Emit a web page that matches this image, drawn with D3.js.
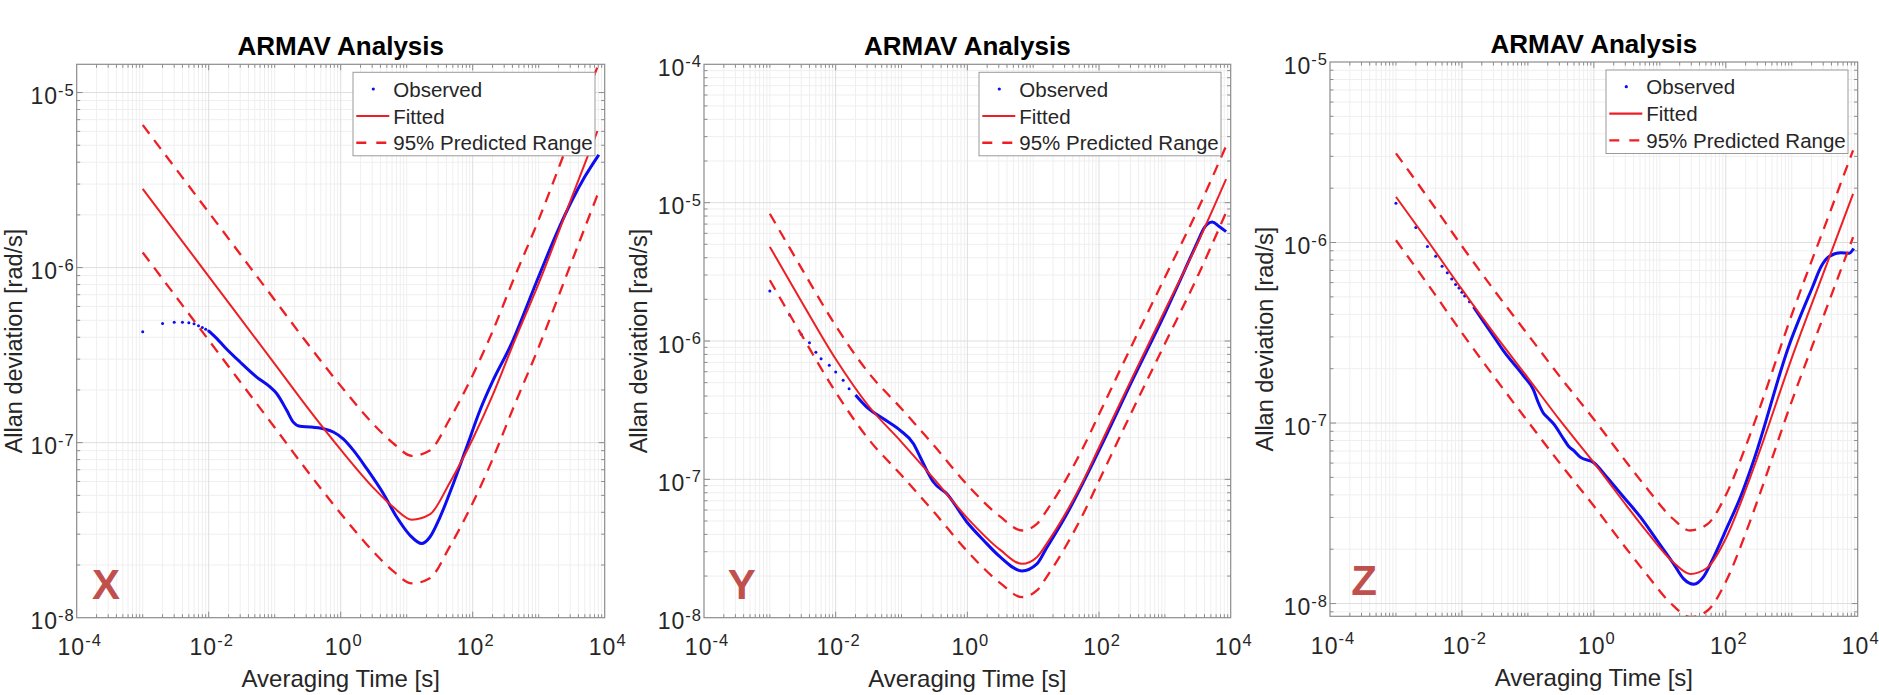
<!DOCTYPE html>
<html><head><meta charset="utf-8">
<script src="https://cdn.jsdelivr.net/npm/d3@7"></script>
<style>
html,body{margin:0;padding:0;background:#fff;}
svg{display:block;}
text{font-family:"Liberation Sans",Arial,Helvetica,sans-serif;}
</style></head><body>
<svg id="chart" width="1879" height="695"></svg>
<script>
// ---------------- DATA ----------------
const titleText = "ARMAV Analysis";
const xLabelText = "Averaging Time [s]";
const yLabelText = "Allan deviation [rad/s]";
const legendLabels = ["Observed", "Fitted", "95% Predicted Range"];
const panelLetters = ["X", "Y", "Z"];

const xTickValues = [1e-4, 1e-2, 1e0, 1e2, 1e4];
const xTickExps = ["-4", "-2", "0", "2", "4"];

const yTicksX = [1e-8, 1e-7, 1e-6, 1e-5];
const yExpsX = ["-8", "-7", "-6", "-5"];
const yTicksY = [1e-8, 1e-7, 1e-6, 1e-5, 1e-4];
const yExpsY = ["-8", "-7", "-6", "-5", "-4"];
const yTicksZ = [1e-8, 1e-7, 1e-6, 1e-5];
const yExpsZ = ["-8", "-7", "-6", "-5"];

// Panel X
const tauFitX = [0.001,0.01,0.1,0.316,1,3.16,6.31,12.0,22.4,44.7,100,200,398,1000,3162,7762];
const fitX    = [2.82e-6,8.91e-7,2.82e-7,1.58e-7,9.12e-8,5.50e-8,4.27e-8,3.63e-8,3.89e-8,5.89e-8,1.05e-7,1.86e-7,3.55e-7,8.13e-7,2.51e-6,6.03e-6];
const upperX  = [6.53e-6,2.07e-6,6.53e-7,3.67e-7,2.11e-7,1.27e-7,9.89e-8,8.41e-8,9.02e-8,1.36e-7,2.43e-7,4.32e-7,8.22e-7,1.88e-6,5.82e-6,1.40e-5];
const lowerX  = [1.22e-6,3.85e-7,1.22e-7,6.84e-8,3.94e-8,2.37e-8,1.84e-8,1.57e-8,1.68e-8,2.54e-8,4.52e-8,8.04e-8,1.53e-7,3.51e-7,1.08e-6,2.60e-6];
const dotTauX = [0.001,0.002,0.003,0.004,0.005,0.006,0.007,0.008,0.009,0.010];
const dotValX = [4.3e-7,4.8e-7,4.87e-7,4.87e-7,4.84e-7,4.78e-7,4.65e-7,4.55e-7,4.45e-7,4.35e-7];
const obsTauX = [0.010,0.0132,0.0174,0.0298,0.0533,0.0849,0.107,0.152,0.191,0.242,0.343,0.545,0.773,1.09,1.55,2.48,4.42,7.05,11.2,16.9,22.5,32.0,50.8,81.1,129,205,367,1000,1995,3162,5012,8128];
const obsValX = [4.35e-7,3.94e-7,3.52e-7,2.89e-7,2.37e-7,2.08e-7,1.91e-7,1.53e-7,1.31e-7,1.24e-7,1.23e-7,1.20e-7,1.15e-7,1.05e-7,9.06e-8,7.10e-8,5.12e-8,3.76e-8,2.96e-8,2.65e-8,2.89e-8,3.76e-8,5.83e-8,9.44e-8,1.53e-7,2.28e-7,3.52e-7,8.9e-7,1.66e-6,2.4e-6,3.31e-6,4.41e-6];

// Panel Y
const tauFitY = [0.001,0.00316,0.01,0.0316,0.1,0.316,1,3.16,6.76,11.5,15.8,31.6,58.9,100,316,1000,3162,8511];
const fitY    = [4.79e-6,1.86e-6,7.41e-7,3.39e-7,1.86e-7,1.0e-7,5.25e-8,3.09e-8,2.45e-8,2.75e-8,3.39e-8,5.75e-8,1.0e-7,1.70e-7,5.37e-7,1.66e-6,5.13e-6,1.48e-5];
const upperY  = [8.32e-6,3.24e-6,1.29e-6,5.89e-7,3.24e-7,1.74e-7,9.12e-8,5.37e-8,4.27e-8,4.79e-8,5.89e-8,1.0e-7,1.74e-7,2.95e-7,9.33e-7,2.88e-6,8.91e-6,2.57e-5];
const lowerY  = [2.75e-6,1.07e-6,4.27e-7,1.95e-7,1.07e-7,5.75e-8,3.02e-8,1.78e-8,1.41e-8,1.58e-8,1.95e-8,3.31e-8,5.75e-8,9.77e-8,3.09e-7,9.55e-7,2.95e-6,8.51e-6];
const dotTauY = [0.001,0.002,0.003,0.004,0.005,0.006,0.008,0.010,0.013,0.016];
const dotValY = [2.3e-6,1.54e-6,1.12e-6,9.7e-7,8.3e-7,7.45e-7,6.67e-7,5.97e-7,5.2e-7,4.52e-7];
const obsTauY = [0.02,0.0296,0.0531,0.0953,0.152,0.192,0.242,0.305,0.488,0.982,1.76,3.15,6.73,11.4,15.8,31.6,100,316,1000,1995,3162,3981,5248,6607,8511];
const obsValY = [4.07e-7,3.33e-7,2.74e-7,2.26e-7,1.81e-7,1.45e-7,1.16e-7,9.57e-8,7.87e-8,4.92e-8,3.63e-8,2.75e-8,2.18e-8,2.45e-8,3.16e-8,5.5e-8,1.62e-7,5.13e-7,1.58e-6,3.24e-6,5.25e-6,6.61e-6,7.24e-6,6.76e-6,6.17e-6];

// Panel Z
const tauFitZ = [0.001,0.00316,0.01,0.0316,0.1,0.316,1,3.16,6.31,15.8,28.8,52.5,100,200,316,1000,3162,8511];
const fitZ    = [1.79e-6,1.0e-6,5.5e-7,3.09e-7,1.78e-7,1.02e-7,6.03e-8,3.47e-8,2.51e-8,1.70e-8,1.46e-8,1.58e-8,2.29e-8,4.27e-8,6.76e-8,2.29e-7,7.08e-7,1.86e-6];
const upperZ  = [3.12e-6,1.74e-6,9.55e-7,5.37e-7,3.09e-7,1.78e-7,1.05e-7,6.03e-8,4.37e-8,2.95e-8,2.54e-8,2.75e-8,3.98e-8,7.41e-8,1.17e-7,3.98e-7,1.23e-6,3.24e-6];
const lowerZ  = [1.03e-6,5.75e-7,3.16e-7,1.78e-7,1.02e-7,5.89e-8,3.47e-8,2.0e-8,1.45e-8,9.77e-9,8.41e-9,9.12e-9,1.32e-8,2.45e-8,3.89e-8,1.32e-7,4.07e-7,1.07e-6];
const dotTauZ = [0.001,0.002,0.003,0.004,0.005,0.006,0.007,0.008,0.009,0.010,0.011,0.013];
const dotValZ = [1.65e-6,1.21e-6,9.5e-7,8.4e-7,7.4e-7,6.8e-7,6.27e-7,5.86e-7,5.6e-7,5.3e-7,5.05e-7,4.7e-7];
const obsTauZ = [0.015,0.0316,0.0427,0.0865,0.122,0.141,0.173,0.2,0.245,0.347,0.417,0.492,0.622,1.0,1.58,2.82,5.06,9.06,16.2,23.0,32.7,46.2,65.6,105,167,265,897,2075,2818,3639,5559,7345,8710];
const obsValZ = [4.4e-7,2.95e-7,2.51e-7,1.82e-7,1.52e-7,1.32e-7,1.13e-7,1.07e-7,9.91e-8,8.18e-8,7.41e-8,7.05e-8,6.47e-8,6.03e-8,5.01e-8,3.89e-8,3.02e-8,2.24e-8,1.66e-8,1.37e-8,1.28e-8,1.41e-8,1.81e-8,2.65e-8,3.89e-8,6.21e-8,2.65e-7,5.69e-7,7.41e-7,8.34e-7,8.77e-7,8.71e-7,9.27e-7];

// ---------------- LAYOUT ----------------
const panels = [
  {letter: panelLetters[0], left: 76.7, right: 604.7, top: 64.3, bottom: 617.7, yDomain: [1e-8, 1.45e-5],
   yTicks: yTicksX, yExps: yExpsX, tauFit: tauFitX, fit: fitX, upper: upperX, lower: lowerX,
   dotTau: dotTauX, dotVal: dotValX, obsTau: obsTauX, obsVal: obsValX, letterDx: 29.3, letterDy: 18.7, ylabOff: 55},
  {letter: panelLetters[1], left: 704, right: 1230.7, top: 64.3, bottom: 617.7, yDomain: [1e-8, 1e-4],
   yTicks: yTicksY, yExps: yExpsY, tauFit: tauFitY, fit: fitY, upper: upperY, lower: lowerY,
   dotTau: dotTauY, dotVal: dotValY, obsTau: obsTauY, obsVal: obsValY, letterDx: 37.7, letterDy: 19, ylabOff: 57.3},
  {letter: panelLetters[2], left: 1330, right: 1857.7, top: 62, bottom: 616.3, yDomain: [8.5e-9, 1e-5],
   yTicks: yTicksZ, yExps: yExpsZ, tauFit: tauFitZ, fit: fitZ, upper: upperZ, lower: lowerZ,
   dotTau: dotTauZ, dotVal: dotValZ, obsTau: obsTauZ, obsVal: obsValZ, letterDx: 34, letterDy: 21, ylabOff: 56.7}
];

const RED = "#ee1f24", BLUE = "#0d0def", AXIS = "#8c8c8c", TXT = "#262626";
const svg = d3.select("#chart");

panels.forEach((p, pi) => {
  const x = d3.scaleLog().domain([1e-4, 1e4]).range([p.left, p.right]);
  const y = d3.scaleLog().domain(p.yDomain).range([p.bottom, p.top]);
  const g = svg.append("g");
  const clipId = "clip" + pi;
  g.append("clipPath").attr("id", clipId).append("rect")
    .attr("x", p.left).attr("y", p.top).attr("width", p.right - p.left).attr("height", p.bottom - p.top);

  const xMinor = [];
  for (let e = -4; e < 4; e++) for (let k = 1; k <= 9; k++) {
    const v = k * Math.pow(10, e);
    if (k === 1 && e % 2 === 0) continue;
    xMinor.push(v);
  }
  const yMinor = [];
  const e0 = Math.floor(Math.log10(p.yDomain[0])), e1 = Math.ceil(Math.log10(p.yDomain[1]));
  for (let e = e0; e < e1; e++) for (let k = 2; k <= 9; k++) {
    const v = k * Math.pow(10, e);
    if (v > p.yDomain[0] && v < p.yDomain[1]) yMinor.push(v);
  }
  const xMajor = xTickValues.slice(1, -1);
  const yMaj = p.yTicks.filter(v => v > p.yDomain[0] * 1.001 && v < p.yDomain[1] * 0.999);

  const grid = g.append("g");
  grid.selectAll(".xm").data(xMinor).join("line")
    .attr("x1", d => x(d)).attr("x2", d => x(d)).attr("y1", p.top).attr("y2", p.bottom)
    .attr("stroke", "#efefef").attr("stroke-width", 1);
  grid.selectAll(".ym").data(yMinor).join("line")
    .attr("x1", p.left).attr("x2", p.right).attr("y1", d => y(d)).attr("y2", d => y(d))
    .attr("stroke", "#efefef").attr("stroke-width", 1);
  grid.selectAll(".xM").data(xMajor).join("line")
    .attr("x1", d => x(d)).attr("x2", d => x(d)).attr("y1", p.top).attr("y2", p.bottom)
    .attr("stroke", "#dedede").attr("stroke-width", 1);
  grid.selectAll(".yM").data(yMaj).join("line")
    .attr("x1", p.left).attr("x2", p.right).attr("y1", d => y(d)).attr("y2", d => y(d))
    .attr("stroke", "#dedede").attr("stroke-width", 1);

  // curves
  const curves = g.append("g").attr("clip-path", `url(#${clipId})`);
  const line = d3.line().x(d => x(d[0])).y(d => y(d[1])).curve(d3.curveMonotoneX);
  const obsPts = p.obsTau.map((t, i) => [t, p.obsVal[i]]);
  curves.append("path").attr("d", line(obsPts)).attr("fill", "none")
    .attr("stroke", BLUE).attr("stroke-width", 3).attr("stroke-linejoin", "round");
  curves.selectAll(".dot").data(p.dotTau.map((t, i) => [t, p.dotVal[i]])).join("circle")
    .attr("cx", d => x(d[0])).attr("cy", d => y(d[1])).attr("r", 1.5).attr("fill", BLUE);
  const fitPts = p.tauFit.map((t, i) => [t, p.fit[i]]);
  curves.append("path").attr("d", line(fitPts)).attr("fill", "none")
    .attr("stroke", RED).attr("stroke-width", 2);
  [p.upper, p.lower].forEach(arr => {
    curves.append("path").attr("d", line(p.tauFit.map((t, i) => [t, arr[i]]))).attr("fill", "none")
      .attr("stroke", RED).attr("stroke-width", 2.3).attr("stroke-dasharray", "11,8");
  });

  // ticks
  const ticks = g.append("g").attr("stroke", AXIS).attr("stroke-width", 1);
  [[xMinor, 3.5], [xMajor, 6]].forEach(([vals, len]) => {
    vals.forEach(v => {
      const xx = x(v);
      ticks.append("line").attr("x1", xx).attr("x2", xx).attr("y1", p.bottom).attr("y2", p.bottom - len);
      ticks.append("line").attr("x1", xx).attr("x2", xx).attr("y1", p.top).attr("y2", p.top + len);
    });
  });
  [[yMinor, 3.5], [yMaj, 6]].forEach(([vals, len]) => {
    vals.forEach(v => {
      const yy = y(v);
      ticks.append("line").attr("x1", p.left).attr("x2", p.left + len).attr("y1", yy).attr("y2", yy);
      ticks.append("line").attr("x1", p.right).attr("x2", p.right - len).attr("y1", yy).attr("y2", yy);
    });
  });

  g.append("rect").attr("x", p.left).attr("y", p.top).attr("width", p.right - p.left).attr("height", p.bottom - p.top)
    .attr("fill", "none").attr("stroke", AXIS).attr("stroke-width", 1.2);

  // x tick labels
  xTickValues.forEach((v, i) => {
    const t = g.append("text").attr("x", x(v) + 3).attr("y", p.bottom + 37.6)
      .attr("text-anchor", "middle").attr("fill", TXT).attr("font-size", 23).attr("letter-spacing", 1);
    t.append("tspan").text("10");
    t.append("tspan").attr("font-size", 16.5).attr("dy", -9.5).text(xTickExps[i]);
  });
  // y tick labels
  p.yTicks.forEach((v, i) => {
    const t = g.append("text").attr("x", p.left - 2).attr("y", y(v) + 11.5)
      .attr("text-anchor", "end").attr("fill", TXT).attr("font-size", 23).attr("letter-spacing", 1);
    t.append("tspan").text("10");
    t.append("tspan").attr("font-size", 16.5).attr("dy", -8.5).text(p.yExps[i]);
  });

  const cx = (p.left + p.right) / 2, cy = (p.top + p.bottom) / 2;
  g.append("text").attr("x", cx).attr("y", p.top - 9.5).attr("text-anchor", "middle")
    .attr("font-size", 26).attr("font-weight", "bold").attr("fill", "#000").text(titleText);
  g.append("text").attr("x", cx).attr("y", p.bottom + 69.3).attr("text-anchor", "middle")
    .attr("font-size", 24).attr("fill", TXT).text(xLabelText);
  g.append("text").attr("transform", `translate(${p.left - p.ylabOff},${cy}) rotate(-90)`)
    .attr("text-anchor", "middle").attr("font-size", 23.5).attr("fill", TXT).text(yLabelText);

  // panel letter
  g.append("text").attr("x", p.left + p.letterDx).attr("y", p.bottom - p.letterDy)
    .attr("text-anchor", "middle").attr("font-family", "'Open Sans',Lato,sans-serif")
    .attr("font-weight", "bold").attr("font-size", 42).attr("fill", "#c0504d").text(p.letter);

  // legend
  const lw = 242, lh = 83.5;
  const lx = p.right - 9.7 - lw, ly = p.top + 8;
  const lg = g.append("g");
  lg.append("rect").attr("x", lx).attr("y", ly).attr("width", lw).attr("height", lh)
    .attr("fill", "#fff").attr("stroke", "#9a9a9a").attr("stroke-width", 1);
  const rows = [16.7, 43.7, 70.4];
  lg.append("circle").attr("cx", lx + 20.3).attr("cy", ly + rows[0]).attr("r", 1.6).attr("fill", BLUE);
  lg.append("line").attr("x1", lx + 3.3).attr("x2", lx + 36.3).attr("y1", ly + rows[1]).attr("y2", ly + rows[1])
    .attr("stroke", RED).attr("stroke-width", 2.2);
  lg.append("line").attr("x1", lx + 3.3).attr("x2", lx + 34.3).attr("y1", ly + rows[2]).attr("y2", ly + rows[2])
    .attr("stroke", RED).attr("stroke-width", 2.4).attr("stroke-dasharray", "10,10");
  legendLabels.forEach((s, i) => {
    lg.append("text").attr("x", lx + 40.3).attr("y", ly + rows[i] + 7.5)
      .attr("font-size", 20.5).attr("fill", TXT).text(s);
  });
});
</script>
</body></html>
